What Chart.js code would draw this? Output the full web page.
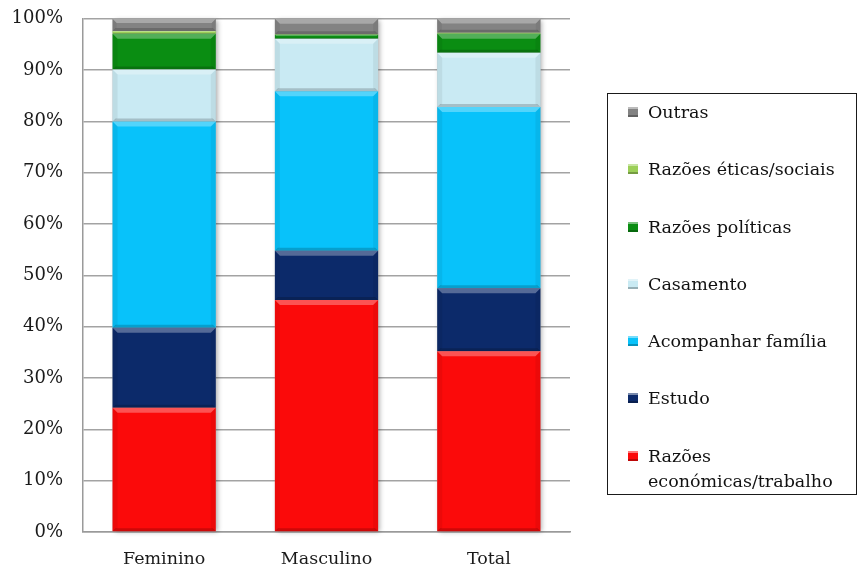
<!DOCTYPE html>
<html>
<head>
<meta charset="utf-8">
<script src="https://cdn.jsdelivr.net/npm/chart.js@4/dist/chart.umd.min.js"></script>
<style>
  html, body { margin: 0; padding: 0; background: #fff; overflow: hidden; }
  #wrap { position: relative; width: 859px; height: 567px; overflow: hidden; }
  #chart { position: absolute; left: 0; top: -12.5px; }
  #legend {
    position: absolute; left: 607px; top: 93px; width: 250px; height: 402px;
    box-sizing: border-box; border: 1.5px solid #1a1a1a;
    font-family: "DejaVu Serif", serif; font-size: 17.5px; color: #111;
    padding-top: 6px;
  }
  .item { position: relative; padding-left: 40px; line-height: 25px; margin-bottom: 32.3px; }
  .swatch {
    position: absolute; left: 20px; top: 7px; width: 10px; height: 10px;
    box-shadow: inset 0 2px 0 rgba(255,255,255,0.45), inset 0 -2px 0 rgba(0,0,0,0.25);
  }
</style>
</head>
<body>
<div id="wrap">
  <canvas id="chart" width="859" height="598"></canvas>
  <div id="legend"></div>
</div>
<script>
// Categories and share of each reason (percent of the group)
const categories = ['Feminino', 'Masculino', 'Total'];
const economicas = [24.2, 45.2, 35.2];
const estudo     = [15.6,  9.6, 12.3];
const acompanhar = [40.2, 31.1, 35.3];
const casamento  = [10.1, 10.2, 10.6];
const politicas  = [ 7.0,  0.8,  3.7];
const eticas     = [ 0.5,  0.1,  0.2];
const outras     = [ 2.4,  3.0,  2.7];

const seriesNames = ['Razões económicas/trabalho', 'Estudo', 'Acompanhar família', 'Casamento',
                     'Razões políticas', 'Razões éticas/sociais', 'Outras'];
const seriesColors = ['#fb0a0a', '#0c2a6a', '#08c2fa', '#c9eaf3', '#0a8d12', '#9ccf58', '#838383'];
const yTickValues = [0, 10, 20, 30, 40, 50, 60, 70, 80, 90, 100];

const seriesValues = [economicas, estudo, acompanhar, casamento, politicas, eticas, outras];

// Drop shadow behind each full column
const columnShadow = {
  id: 'columnShadow',
  beforeDatasetsDraw(chart) {
    const ctx = chart.ctx;
    const metas = chart.getSortedVisibleDatasetMetas();
    categories.forEach((c, idx) => {
      let top = Infinity, bottom = -Infinity, l = 0, r = 0;
      metas.forEach(m => {
        const bar = m.data[idx];
        if (!bar) return;
        const p = bar.getProps(['x', 'y', 'base', 'width'], true);
        top = Math.min(top, p.y, p.base);
        bottom = Math.max(bottom, p.y, p.base);
        l = p.x - p.width / 2; r = p.x + p.width / 2;
      });
      ctx.save();
      ctx.shadowColor = 'rgba(0,0,0,0.35)';
      ctx.shadowBlur = 5;
      ctx.shadowOffsetX = 2;
      ctx.shadowOffsetY = 1;
      ctx.fillStyle = '#bbb';
      ctx.fillRect(l, top, r - l, bottom - top);
      ctx.restore();
    });
  }
};

// Bevelled edges on every segment
const bevel = {
  id: 'bevel',
  afterDatasetsDraw(chart) {
    const ctx = chart.ctx;
    chart.getSortedVisibleDatasetMetas().forEach(meta => {
      meta.data.forEach(bar => {
        const p = bar.getProps(['x', 'y', 'base', 'width'], true);
        const l = p.x - p.width / 2, r = p.x + p.width / 2;
        const t = Math.min(p.y, p.base), b = Math.max(p.y, p.base);
        const h = b - t;
        if (h < 0.5) return;
        const e = Math.min(5, h / 3);
        const eb = Math.min(3, h / 4);
        ctx.save();
        // top light band
        ctx.fillStyle = 'rgba(255,255,255,0.30)';
        ctx.beginPath();
        ctx.moveTo(l, t); ctx.lineTo(r, t); ctx.lineTo(r - e, t + e); ctx.lineTo(l + e, t + e);
        ctx.closePath(); ctx.fill();
        // bottom dark band
        ctx.fillStyle = 'rgba(0,0,0,0.18)';
        ctx.beginPath();
        ctx.moveTo(l, b); ctx.lineTo(r, b); ctx.lineTo(r - eb, b - eb); ctx.lineTo(l + eb, b - eb);
        ctx.closePath(); ctx.fill();
        // side shading
        ctx.fillStyle = 'rgba(0,0,0,0.06)';
        ctx.beginPath();
        ctx.moveTo(l, t); ctx.lineTo(l + e, t + e); ctx.lineTo(l + e, b - eb); ctx.lineTo(l, b);
        ctx.closePath(); ctx.fill();
        ctx.beginPath();
        ctx.moveTo(r, t); ctx.lineTo(r - e, t + e); ctx.lineTo(r - e, b - eb); ctx.lineTo(r, b);
        ctx.closePath(); ctx.fill();
        ctx.restore();
      });
    });
  }
};

const datasets = seriesNames.map((name, i) => ({
  label: name,
  data: seriesValues[i],
  backgroundColor: seriesColors[i],
  borderWidth: 0,
  categoryPercentage: 1.0,
  barPercentage: 0.636
}));

new Chart(document.getElementById('chart'), {
  type: 'bar',
  data: { labels: categories, datasets },
  plugins: [columnShadow, bevel],
  options: {
    responsive: false,
    animation: false,
    layout: { padding: { left: 6, right: 289, top: 8, bottom: 0 } },
    plugins: { legend: { display: false }, tooltip: { enabled: false } },
    scales: {
      x: {
        stacked: true,
        grid: { display: false, drawTicks: false },
        border: { display: true, color: '#9a9a9a', width: 1.5 },
        ticks: { color: '#1a1a1a', padding: 16.5, font: { family: 'DejaVu Serif', size: 17.5 } }
      },
      y: {
        stacked: true,
        min: 0, max: 100,
        afterBuildTicks(scale) { scale.ticks = yTickValues.map(v => ({ value: v })); },
        afterFit(scale) { scale.width = 77; },
        grid: { color: '#a3a3a3', lineWidth: 1.5, drawTicks: false },
        border: { display: true, color: '#9a9a9a', width: 1.5 },
        ticks: { color: '#1a1a1a', padding: 20, font: { family: 'DejaVu Serif', size: 18 },
                 callback: v => v + '%' }
      }
    }
  }
});

// Legend, listed top to bottom in the order the segments are stacked
const legend = document.getElementById('legend');
for (let i = seriesNames.length - 1; i >= 0; i--) {
  const item = document.createElement('div');
  item.className = 'item';
  const sw = document.createElement('span');
  sw.className = 'swatch';
  sw.style.background = seriesColors[i];
  item.appendChild(sw);
  const parts = seriesNames[i] === 'Razões económicas/trabalho' ? ['Razões', 'económicas/trabalho'] : [seriesNames[i]];
  parts.forEach((t, k) => {
    if (k) item.appendChild(document.createElement('br'));
    item.appendChild(document.createTextNode(t));
  });
  legend.appendChild(item);
}
</script>
</body>
</html>
